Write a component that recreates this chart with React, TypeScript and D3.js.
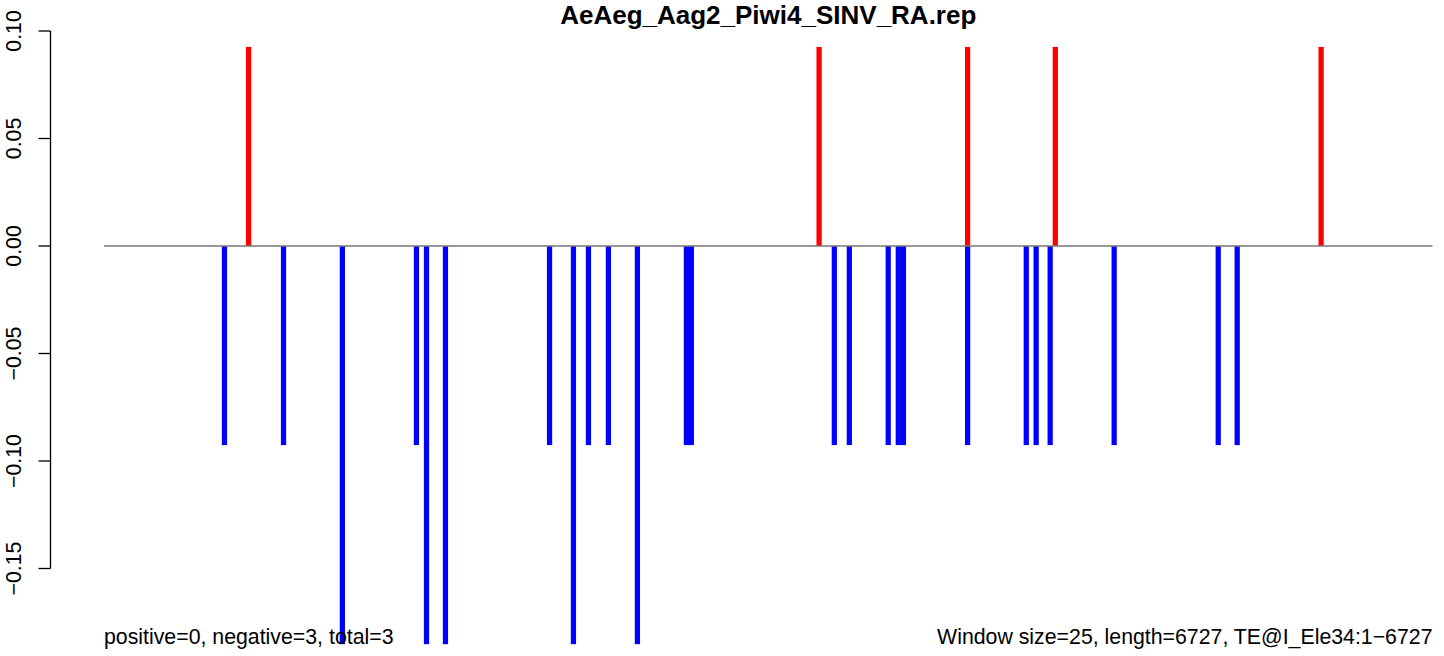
import React from "react";
import * as d3 from "d3";

const title = "AeAeg_Aag2_Piwi4_SINV_RA.rep";
const leftNote = "positive=0, negative=3, total=3";
const rightNote = "Window size=25, length=6727, TE@I_Ele34:1\u22126727";

const seqLength = 6727;
const windowSize = 25;

// sense (positive strand) windows: centre position (nt) and value
const sensePos = [732, 3621, 4373, 4817, 6163];
const senseVal = [0.0926, 0.0926, 0.0926, 0.0926, 0.0926];

// antisense (negative strand) windows
const antiPos = [
  610, 909, 1207, 1582, 1633, 1729, 2256, 2377, 2453, 2554, 2701, 2949, 2974,
  3698, 3774, 3971, 4022, 4048, 4373, 4670, 4720, 4791, 5115, 5642, 5738,
];
const antiVal = [
  -0.0926, -0.0926, -0.1852, -0.0926, -0.1852, -0.1852, -0.0926, -0.1852,
  -0.0926, -0.0926, -0.1852, -0.0926, -0.0926, -0.0926, -0.0926, -0.0926,
  -0.0926, -0.0926, -0.0926, -0.0926, -0.0926, -0.0926, -0.0926, -0.0926,
  -0.0926,
];

const yTicks = [0.1, 0.05, 0, -0.05, -0.1, -0.15];

const W = 1444;
const H = 656;
const FONT = "'Liberation Sans', Arial, Helvetica, sans-serif";

export default function App() {
  const x = d3.scaleLinear().domain([0, seqLength]).range([104, 1432.5]);
  const y = d3.scaleLinear().domain([-0.15, 0.1]).range([568.5, 31]);
  const bw = x(windowSize) - x(0);
  const axisX = 50.5;
  const fmt = d3.format(".2f");

  const bars = [
    ...sensePos.map((p, i) => ({ p, v: senseVal[i], c: "#FF0000" })),
    ...antiPos.map((p, i) => ({ p, v: antiVal[i], c: "#0000FF" })),
  ];

  return (
    <div style={{ position: "absolute", left: 0, top: 0 }}>
      <svg width={W} height={H} style={{ display: "block", background: "#fff" }}>
        <text
          x={(x(0) + x(seqLength)) / 2}
          y={23.6}
          textAnchor="middle"
          fontFamily={FONT}
          fontWeight="bold"
          fontSize={26}
        >
          {title}
        </text>
        {/* y axis */}
        <line
          x1={axisX}
          x2={axisX}
          y1={y(0.1)}
          y2={y(-0.15)}
          stroke="#000"
          strokeWidth={1.33}
        />
        {yTicks.map((t) => (
          <g key={t}>
            <line
              x1={axisX - 12}
              x2={axisX}
              y1={y(t)}
              y2={y(t)}
              stroke="#000"
              strokeWidth={1.33}
            />
            <text
              transform={`translate(21,${y(t)}) rotate(-90)`}
              textAnchor="middle"
              fontFamily={FONT}
              fontSize={21.3}
            >
              {fmt(t).replace("-", "\u2212")}
            </text>
          </g>
        ))}
        {/* bars */}
        {bars.map((b, i) => (
          <rect
            key={i}
            x={x(b.p) - bw / 2 - 0.15}
            width={bw + 0.3}
            y={Math.min(y(b.v), y(0))}
            height={Math.abs(y(b.v) - y(0))}
            fill={b.c}
          />
        ))}
        {/* zero line */}
        <line
          x1={x(0)}
          x2={x(seqLength)}
          y1={y(0)}
          y2={y(0)}
          stroke="#777"
          strokeWidth={1.3}
        />
        <text x={x(0)} y={644} fontFamily={FONT} fontSize={21.3}>
          {leftNote}
        </text>
        <text
          x={x(seqLength)}
          y={644}
          textAnchor="end"
          fontFamily={FONT}
          fontSize={21.3}
        >
          {rightNote}
        </text>
      </svg>
    </div>
  );
}
